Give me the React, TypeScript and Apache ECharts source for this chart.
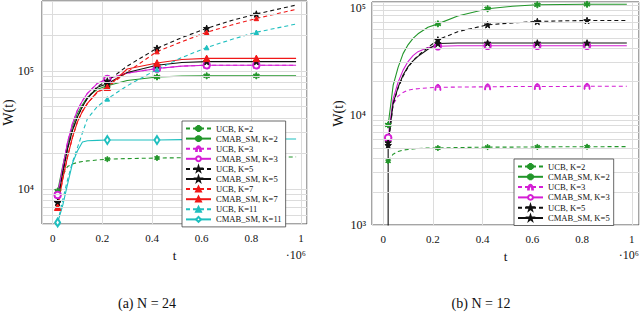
import { useEffect, useRef } from 'react';
import * as echarts from 'echarts';

const FONT = 'Liberation Serif, Times New Roman, serif';

// sample positions (t in units of 10^6)
const tLeft = [0.02, 0.04, 0.06, 0.08, 0.1, 0.12, 0.14, 0.18, 0.22, 0.3, 0.42, 0.52, 0.62, 0.72, 0.82, 0.98];
const tRight = [0.02, 0.04, 0.06, 0.08, 0.1, 0.12, 0.14, 0.18, 0.22, 0.3, 0.42, 0.52, 0.62, 0.72, 0.82, 0.98];
const tRightK5 = [0.0199, 0.02, 0.04, 0.06, 0.08, 0.1, 0.12, 0.14, 0.18, 0.22, 0.3, 0.42, 0.52, 0.62, 0.72, 0.82, 0.98];
const markerT = [0.02, 0.22, 0.42, 0.62, 0.82];

// (a) N = 24
const ucbK2L = [9000, 13000, 15500, 16300, 16800, 17100, 17300, 17600, 17900, 18100, 18300, 18400, 18500, 18500, 18600, 18700];
const cmabK2L = [9600, 15500, 24000, 34000, 43800, 52000, 60000, 70000, 75000, 83000, 89000, 90500, 91000, 91000, 91000, 91000];
const ucbK3L = [8900, 15000, 25000, 36000, 46800, 56000, 64700, 78700, 85500, 96000, 105000, 110000, 112000, 112000, 112000, 112000];
const cmabK3L = [8900, 15000, 25000, 36000, 46800, 56000, 64700, 78700, 85500, 96000, 105000, 110000, 112000, 112000, 112000, 112000];
const ucbK5L = [7700, 13500, 22000, 31500, 41000, 50000, 59000, 74000, 82300, 110000, 156000, 192000, 230000, 268000, 304000, 362000];
const cmabK5L = [7700, 13500, 22000, 31500, 41000, 50000, 58700, 72700, 78000, 97000, 112000, 118000, 120000, 120000, 120000, 120000];
const ucbK7L = [7000, 12000, 18800, 27500, 37200, 45500, 53200, 66000, 72800, 98000, 146000, 177000, 213000, 245000, 279000, 333000];
const cmabK7L = [7000, 12000, 18800, 27500, 37200, 45500, 53200, 66800, 72800, 104000, 117000, 125000, 128000, 128000, 128000, 128000];
const ucbK11L = [5200, 8000, 12000, 17000, 22500, 30000, 39500, 50000, 58000, 75000, 103000, 130000, 158000, 185000, 213000, 250000];
const cmabK11L = [5200, 7200, 11000, 16600, 21100, 25000, 25600, 25800, 26000, 26000, 26000, 26200, 26300, 26400, 26500, 26500];

// (b) N = 12
const ucbK2R = [3800, 4400, 4650, 4800, 4850, 4900, 4950, 5000, 5000, 5050, 5100, 5100, 5120, 5130, 5140, 5150];
const cmabK2R = [8100, 18500, 27000, 36000, 43300, 49500, 54500, 62500, 67100, 79000, 92000, 97000, 100000, 100500, 101000, 101000];
const ucbK3R = [6200, 12500, 14800, 16000, 16800, 17100, 17300, 17600, 17800, 17900, 18000, 18100, 18100, 18100, 18200, 18200];
const cmabK3R = [6200, 14000, 19800, 25500, 30500, 34500, 37500, 41000, 42000, 42400, 42400, 42400, 42400, 42400, 42400, 42400];
const ucbK5R = [5300, 12500, 17500, 22500, 27000, 31000, 34500, 41000, 48000, 57000, 65800, 68500, 70500, 71500, 72000, 72000];
const cmabK5R = [300, 5600, 12800, 17800, 23000, 27500, 31000, 34000, 39500, 44500, 45000, 45000, 45000, 45000, 45000, 45000, 45000];

const xTickLabels = ['0', '0.2', '0.4', '0.6', '0.8', '1'];
const yTickExpLeft = [4, 5];
const yTickExpRight = [3, 4, 5];
const supDigits: Record<number, string> = { 3: '³', 4: '⁴', 5: '⁵', 6: '⁶' };
const xScaleLabel = '·10⁶';
const minorLeft = [6000, 7000, 8000, 9000, 20000, 30000, 40000, 50000, 60000, 70000, 80000, 90000, 200000, 300000];
const minorRight = [2000, 3000, 4000, 5000, 6000, 7000, 8000, 9000, 20000, 30000, 40000, 50000, 60000, 70000, 80000, 90000];

const legendLeft = ['UCB, K=2', 'CMAB_SM, K=2', 'UCB, K=3', 'CMAB_SM, K=3', 'UCB, K=5', 'CMAB_SM, K=5', 'UCB, K=7', 'CMAB_SM, K=7', 'UCB, K=11', 'CMAB_SM, K=11'];
const legendRight = ['UCB, K=2', 'CMAB_SM, K=2', 'UCB, K=3', 'CMAB_SM, K=3', 'UCB, K=5', 'CMAB_SM, K=5'];

const STAR = 'path://M0,-10L2.35,-3.24L9.51,-3.09L3.8,1.24L5.88,8.09L0,4L-5.88,8.09L-3.8,1.24L-9.51,-3.09L-2.35,-3.24Z';
const ASTER = 'path://M-1.6,-10L1.6,-10L1.6,10L-1.6,10Z M7.86,6.39L-9.46,-3.61L-7.86,-6.39L9.46,3.61Z M-9.46,3.61L7.86,-6.39L9.46,-3.61L-7.86,6.39Z';
const HALF = 'path://M-10,2A10,10 0 0 1 10,2L7,2A7,7 0 0 0 -7,2Z';

const GREEN = '#22962a';
const MAGENTA = '#d41fd4';
const BLACK = '#111111';
const RED = '#f01818';
const CYAN = '#1fbfbf';
const TEXT = '#111111';

const GRID_L = { left: 40, top: 1, width: 267, height: 223 };
const GRID_R = { left: 372, top: 2, width: 267, height: 223 };

type Sty = { color: string; dashed: boolean; symbol: string; size: number | number[] };
const styles: Record<string, Sty> = {
  'UCB, K=2': { color: GREEN, dashed: true, symbol: ASTER, size: 5 },
  'CMAB_SM, K=2': { color: GREEN, dashed: false, symbol: ASTER, size: 6 },
  'UCB, K=3': { color: MAGENTA, dashed: true, symbol: HALF, size: 6 },
  'CMAB_SM, K=3': { color: MAGENTA, dashed: false, symbol: 'emptyCircle', size: 6.5 },
  'UCB, K=5': { color: BLACK, dashed: true, symbol: STAR, size: 6.5 },
  'CMAB_SM, K=5': { color: BLACK, dashed: false, symbol: STAR, size: 6.5 },
  'UCB, K=7': { color: RED, dashed: true, symbol: 'triangle', size: 4.5 },
  'CMAB_SM, K=7': { color: RED, dashed: false, symbol: 'triangle', size: 6.5 },
  'UCB, K=11': { color: CYAN, dashed: true, symbol: 'triangle', size: 4.5 },
  'CMAB_SM, K=11': { color: CYAN, dashed: false, symbol: 'emptyDiamond', size: [5, 8] },
};

function makeSeries(name: string, t: number[], v: number[], gi: number) {
  const s = styles[name];
  return {
    type: 'line',
    name,
    xAxisIndex: gi,
    yAxisIndex: gi,
    symbol: s.symbol,
    symbolSize: s.size,
    showSymbol: true,
    showAllSymbol: true,
    clip: true,
    z: 3,
    itemStyle: { color: s.color, borderColor: s.color, borderWidth: 1 },
    lineStyle: { color: s.color, width: 1.1, type: s.dashed ? [4, 3] : 'solid' },
    data: t.map((x, i) => {
      const isMarker = markerT.some((m) => Math.abs(m - x) < 1e-9);
      return isMarker ? { value: [x, v[i]] } : { value: [x, v[i]], symbol: 'none' };
    }),
  };
}

function minorSeries(gi: number, vals: number[]) {
  return {
    type: 'line',
    name: 'minor' + gi,
    xAxisIndex: gi,
    yAxisIndex: gi,
    data: [],
    symbol: 'none',
    z: 1,
    silent: true,
    color: '#dcdcdc',
    markLine: {
      silent: true,
      symbol: ['none', 'none'],
      label: { show: false },
      emphasis: { disabled: true, label: { show: false } },
      lineStyle: { color: '#dcdcdc', width: 1, type: 'solid' },
      data: vals.map((y) => ({ yAxis: y })),
    },
  };
}

function xAxisOpt(gi: number, min: number, max: number) {
  return {
    type: 'value',
    gridIndex: gi,
    min,
    max,
    splitNumber: 5,
    axisLine: { show: false },
    axisTick: { show: false },
    splitLine: { show: true, lineStyle: { color: '#dcdcdc', width: 1 } },
    axisLabel: {
      margin: 8,
      fontSize: 11,
      fontFamily: FONT,
      color: TEXT,
      showMinLabel: false,
      showMaxLabel: false,
      formatter: (v: number) => {
        const k = Math.round(v / 0.2);
        if (Math.abs(v - k * 0.2) > 1e-6) return '';
        return xTickLabels[k] ?? '';
      },
    },
    name: 't',
    nameLocation: 'middle',
    nameGap: 25,
    nameTextStyle: { fontSize: 13, fontFamily: FONT, color: TEXT },
  };
}

function yAxisOpt(gi: number, min: number, max: number) {
  return {
    type: 'log',
    logBase: 10,
    gridIndex: gi,
    min,
    max,
    axisLine: { show: false },
    axisTick: { show: false },
    splitLine: { show: true, lineStyle: { color: '#dcdcdc', width: 1 } },
    axisLabel: { show: false },
    name: 'W(t)',
    nameLocation: 'middle',
    nameGap: 27,
    nameTextStyle: { fontSize: 14, fontFamily: FONT, color: TEXT },
  };
}

function legendOpt(data: string[], left: number, top: number, gap: number) {
  return {
    orient: 'vertical',
    left,
    top,
    data,
    itemWidth: 25,
    itemHeight: 6,
    itemGap: gap,
    padding: [3, 4, 3, 3],
    backgroundColor: '#ffffff',
    borderColor: '#444',
    borderWidth: 0.8,
    borderRadius: 0,
    textStyle: { fontSize: 8.6, fontFamily: FONT, color: TEXT },
    selectedMode: false,
    z: 10,
  };
}

function baseGraphic() {
  return [
    {
      id: 'xs0',
      type: 'text',
      x: 306,
      y: 255,
      style: { text: xScaleLabel, fontSize: 12, fontFamily: FONT, fill: TEXT, align: 'right', verticalAlign: 'middle' },
    },
    {
      id: 'xs1',
      type: 'text',
      x: 639,
      y: 255,
      style: { text: xScaleLabel, fontSize: 12, fontFamily: FONT, fill: TEXT, align: 'right', verticalAlign: 'middle' },
    },
    {
      id: 'capA',
      type: 'text',
      x: 147,
      y: 303,
      style: { text: '(a) N = 24', fontSize: 14, fontFamily: FONT, fill: TEXT, align: 'center', verticalAlign: 'middle' },
    },
    {
      id: 'capB',
      type: 'text',
      x: 481,
      y: 303,
      style: { text: '(b) N = 12', fontSize: 14, fontFamily: FONT, fill: TEXT, align: 'center', verticalAlign: 'middle' },
    },
  ];
}

function buildOption() {
  return {
    animation: false,
    backgroundColor: '#ffffff',
    textStyle: { fontFamily: FONT, color: TEXT },
    grid: [
      { ...GRID_L, show: true, borderColor: '#4a4a4a', borderWidth: 1, backgroundColor: 'transparent' },
      { ...GRID_R, show: true, borderColor: '#4a4a4a', borderWidth: 1, backgroundColor: 'transparent' },
    ],
    xAxis: [xAxisOpt(0, -0.043, 1.024), xAxisOpt(1, -0.045, 1.029)],
    yAxis: [yAxisOpt(0, 5050, 392000), yAxisOpt(1, 1000, 106000)],
    legend: [legendOpt(legendLeft, 182, 121, 1.1), legendOpt(legendRight, 514, 159, 1.3)],
    series: [
      minorSeries(0, minorLeft),
      minorSeries(1, minorRight),
      makeSeries('UCB, K=2', tLeft, ucbK2L, 0),
      makeSeries('CMAB_SM, K=2', tLeft, cmabK2L, 0),
      makeSeries('UCB, K=3', tLeft, ucbK3L, 0),
      makeSeries('CMAB_SM, K=3', tLeft, cmabK3L, 0),
      makeSeries('UCB, K=5', tLeft, ucbK5L, 0),
      makeSeries('CMAB_SM, K=5', tLeft, cmabK5L, 0),
      makeSeries('UCB, K=7', tLeft, ucbK7L, 0),
      makeSeries('CMAB_SM, K=7', tLeft, cmabK7L, 0),
      makeSeries('UCB, K=11', tLeft, ucbK11L, 0),
      makeSeries('CMAB_SM, K=11', tLeft, cmabK11L, 0),
      makeSeries('UCB, K=2', tRight, ucbK2R, 1),
      makeSeries('CMAB_SM, K=2', tRight, cmabK2R, 1),
      makeSeries('UCB, K=3', tRight, ucbK3R, 1),
      makeSeries('CMAB_SM, K=3', tRight, cmabK3R, 1),
      makeSeries('UCB, K=5', tRight, ucbK5R, 1),
      makeSeries('CMAB_SM, K=5', tRightK5, cmabK5R, 1),
    ],
    graphic: baseGraphic(),
  };
}

export default function App() {
  const ref = useRef<HTMLDivElement>(null);
  useEffect(() => {
    if (!ref.current) return;
    const chart = echarts.init(ref.current, undefined, { renderer: 'svg' });
    chart.setOption(buildOption() as any);
    // y tick labels placed through the log axis scale
    const labels: any[] = [];
    const add = (gi: number, exps: number[], gridLeft: number) => {
      exps.forEach((e) => {
        const py = chart.convertToPixel({ yAxisIndex: gi } as any, Math.pow(10, e)) as unknown as number;
        labels.push({
          id: `yl${gi}_${e}`,
          type: 'text',
          x: gridLeft - 6,
          y: Math.max(py, 8),
          style: {
            text: '10' + supDigits[e],
            fontSize: 12,
            fontFamily: FONT,
            fill: TEXT,
            align: 'right',
            verticalAlign: 'middle',
          },
        });
      });
    };
    add(0, yTickExpLeft, GRID_L.left);
    add(1, yTickExpRight, GRID_R.left);
    chart.setOption({ graphic: [...baseGraphic(), ...labels] } as any);
    return () => chart.dispose();
  }, []);
  return (
    <div
      ref={ref}
      style={{ position: 'fixed', left: 0, top: 0, width: 640, height: 313, background: '#fff' }}
    />
  );
}
